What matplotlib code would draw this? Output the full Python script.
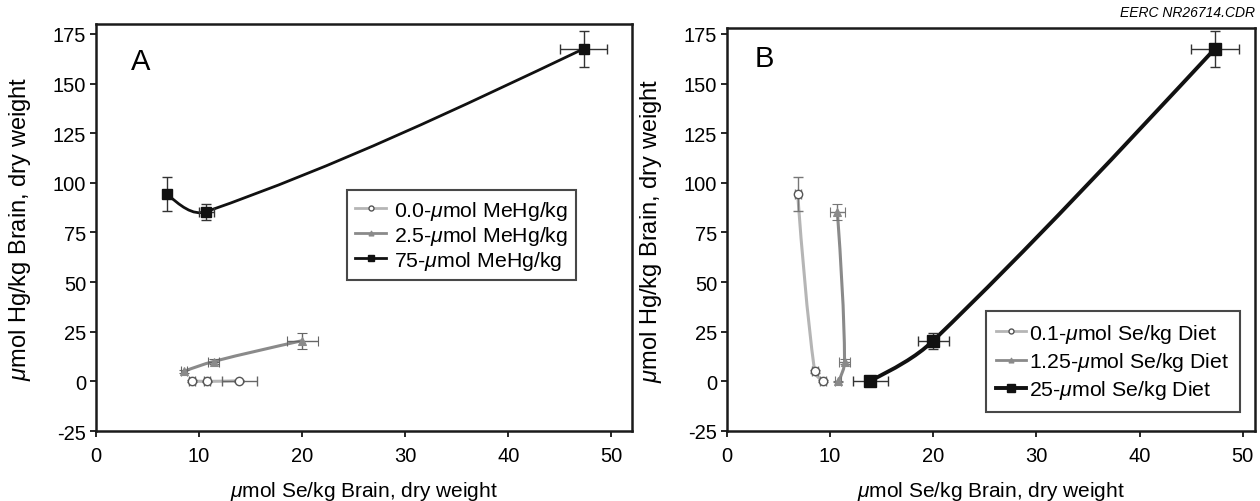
import numpy as np
import matplotlib
matplotlib.use("Agg")
import matplotlib.pyplot as plt
from matplotlib.path import Path
from matplotlib.patches import PathPatch
from matplotlib.lines import Line2D

plt.rcParams['font.family'] = ['Liberation Sans', 'DejaVu Sans']
plt.rcParams['mathtext.fontset'] = 'custom'
plt.rcParams['mathtext.it'] = 'Liberation Sans:italic'
plt.rcParams['mathtext.rm'] = 'Liberation Sans'
plt.rcParams['axes.unicode_minus'] = False

# ---- data: brain Se (x) and brain Hg (y), grouped by MeHg dose (rows) and Se diet (cols)
se_diet_labels = ["0.1-$\\mathit{\\mu}$mol Se/kg Diet", "1.25-$\\mathit{\\mu}$mol Se/kg Diet",
                  "25-$\\mathit{\\mu}$mol Se/kg Diet"]
mehg_labels = ["0.0-$\\mathit{\\mu}$mol MeHg/kg", "2.5-$\\mathit{\\mu}$mol MeHg/kg",
               "75-$\\mathit{\\mu}$mol MeHg/kg"]
# rows: MeHg 0.0, 2.5, 75 ; cols: Se diet 0.1, 1.25, 25
se_brain = [[9.3, 10.8, 13.9],
            [8.5, 11.4, 20.0],
            [6.85, 10.7, 47.3]]
se_brain_err = [[0.3, 0.3, 1.7],
                [0.3, 0.5, 1.5],
                [0.3, 0.7, 2.3]]
hg_brain = [[0.2, 0.0, 0.3],
            [5.0, 10.0, 20.5],
            [94.5, 85.5, 167.5]]
hg_brain_err = [[0.3, 0.3, 0.5],
                [0.8, 1.5, 4.0],
                [8.5, 4.0, 9.0]]

colors = ['#b5b5b5', '#8a8a8a', '#111111']
fig = plt.figure(figsize=(12.6, 5.02), dpi=100)
axA = fig.add_axes([96/1260, 1-432/502, (632-96)/1260, (432-25)/502])
axB = fig.add_axes([727/1260, 1-432/502, (1255-727)/1260, (432-29)/502])
axA.set_xlim(0, 52)
axA.set_ylim(-25, 180)
axB.set_xlim(0, 51.2)
axB.set_ylim(-25, 178)


def smooth(ax, xs, ys, color, lw):
    pts = ax.transData.transform(np.column_stack([xs, ys]))
    n = len(pts)
    tang = [None] * n
    for i in range(1, n - 1):
        d = pts[i + 1] - pts[i - 1]
        tang[i] = d / np.linalg.norm(d)
    verts = [pts[0]]
    codes = [Path.MOVETO]
    for i in range(n - 1):
        p0, p1 = pts[i], pts[i + 1]
        L = np.linalg.norm(p1 - p0)
        if tang[i] is not None and tang[i + 1] is not None:
            c1 = p0 + L / 3 * tang[i]
            c2 = p1 - L / 3 * tang[i + 1]
        elif tang[i + 1] is not None:
            c2 = p1 - L / 3 * tang[i + 1]
            c1 = p0 + (c2 - p0) / 2
        else:
            c1 = p0 + L / 3 * tang[i]
            c2 = p1 + (c1 - p1) / 2
        verts += [c1, c2, p1]
        codes += [Path.CURVE4] * 3
    verts = ax.transData.inverted().transform(np.array(verts))
    ax.add_patch(PathPatch(Path(verts, codes), fill=False, edgecolor=color,
                           lw=lw, zorder=2, capstyle='round', joinstyle='round'))


def marker_kw(k, big):
    if k == 0:
        return dict(marker='o', ms=6, mfc='white', mec='#555555', mew=1.0)
    if k == 1:
        return dict(marker='^', ms=6, mfc='#8a8a8a', mec='#8a8a8a', mew=0.8)
    return dict(marker='s', ms=9 if big else 6.5, mfc='#111111', mec='#111111')


# Panel A: series by MeHg dose
for k in range(3):
    xs, ys = se_brain[k], hg_brain[k]
    smooth(axA, xs, ys, colors[k], 2.0 if k == 2 else 2.2)
    axA.errorbar(xs, ys, xerr=se_brain_err[k], yerr=hg_brain_err[k], ls='none',
                 ecolor='#333333' if k == 2 else '#666666', elinewidth=1.0, capsize=3.5,
                 zorder=3, **marker_kw(k, False))

# Panel B: series by Se diet
for k in range(3):
    xs = [se_brain[r][k] for r in range(3)]
    ys = [hg_brain[r][k] for r in range(3)]
    smooth(axB, xs, ys, colors[k], 2.8 if k == 2 else 2.2)
    axB.errorbar(xs, ys, xerr=[se_brain_err[r][k] for r in range(3)],
                 yerr=[hg_brain_err[r][k] for r in range(3)], ls='none',
                 ecolor='#333333' if k == 2 else '#777777', elinewidth=1.0, capsize=3.5,
                 zorder=3, **marker_kw(k, True))

for ax in (axA, axB):
    ax.set_xticks([0, 10, 20, 30, 40, 50])
    ax.set_yticks([-25, 0, 25, 50, 75, 100, 125, 150, 175])
    ax.tick_params(axis='both', labelsize=14.5, length=4, width=1.2, direction='out')
    ax.tick_params(axis='x', pad=7)
    ax.tick_params(axis='y', pad=3)
    for s in ax.spines.values():
        s.set_linewidth(1.8)
        s.set_color('#1a1a1a')
    ax.set_xlabel("$\\mathit{\\mu}$mol Se/kg Brain, dry weight", fontsize=15, labelpad=10)
    ax.set_ylabel("$\\mathit{\\mu}$mol Hg/kg Brain, dry weight", fontsize=17, labelpad=14)

axA.text((131 - 96) / 536, (432 - 70) / 407, 'A', transform=axA.transAxes, fontsize=21,
         ha='left', va='baseline')
axB.text((755 - 727) / 528, (432 - 67) / 403, 'B', transform=axB.transAxes, fontsize=21,
         ha='left', va='baseline')
fig.text(0.996, 0.96, 'EERC NR26714.CDR', ha='right', va='bottom', fontsize=10, style='italic')

hA = []
for k in range(3):
    mk = marker_kw(k, False)
    mk['ms'] = mk['ms'] * 0.6
    hA.append(Line2D([], [], color=colors[k], lw=2.0, **mk))
legA = axA.legend(hA, mehg_labels, loc='upper left', bbox_to_anchor=(0.468, 0.592),
                  borderaxespad=0, fontsize=15.3, frameon=True, fancybox=False,
                  handlelength=1.45, handletextpad=0.35, borderpad=0.4, labelspacing=0.1)
legA.get_frame().set_edgecolor('#1a1a1a')
legA.get_frame().set_linewidth(1.5)

hB = []
for k in range(3):
    mk = marker_kw(k, True)
    mk['ms'] = mk['ms'] * (0.6 if k < 2 else 0.7)
    hB.append(Line2D([], [], color=colors[k], lw=2.0 if k < 2 else 2.8, **mk))
legB = axB.legend(hB, se_diet_labels, loc='lower right', bbox_to_anchor=(0.9716, 0.047),
                  borderaxespad=0, fontsize=15.3, frameon=True, fancybox=False,
                  handlelength=1.4, handletextpad=0.15, borderpad=0.5, labelspacing=0.25)
legB.get_frame().set_edgecolor('#1a1a1a')
legB.get_frame().set_linewidth(1.5)

fig.savefig('out.png', dpi=100)
